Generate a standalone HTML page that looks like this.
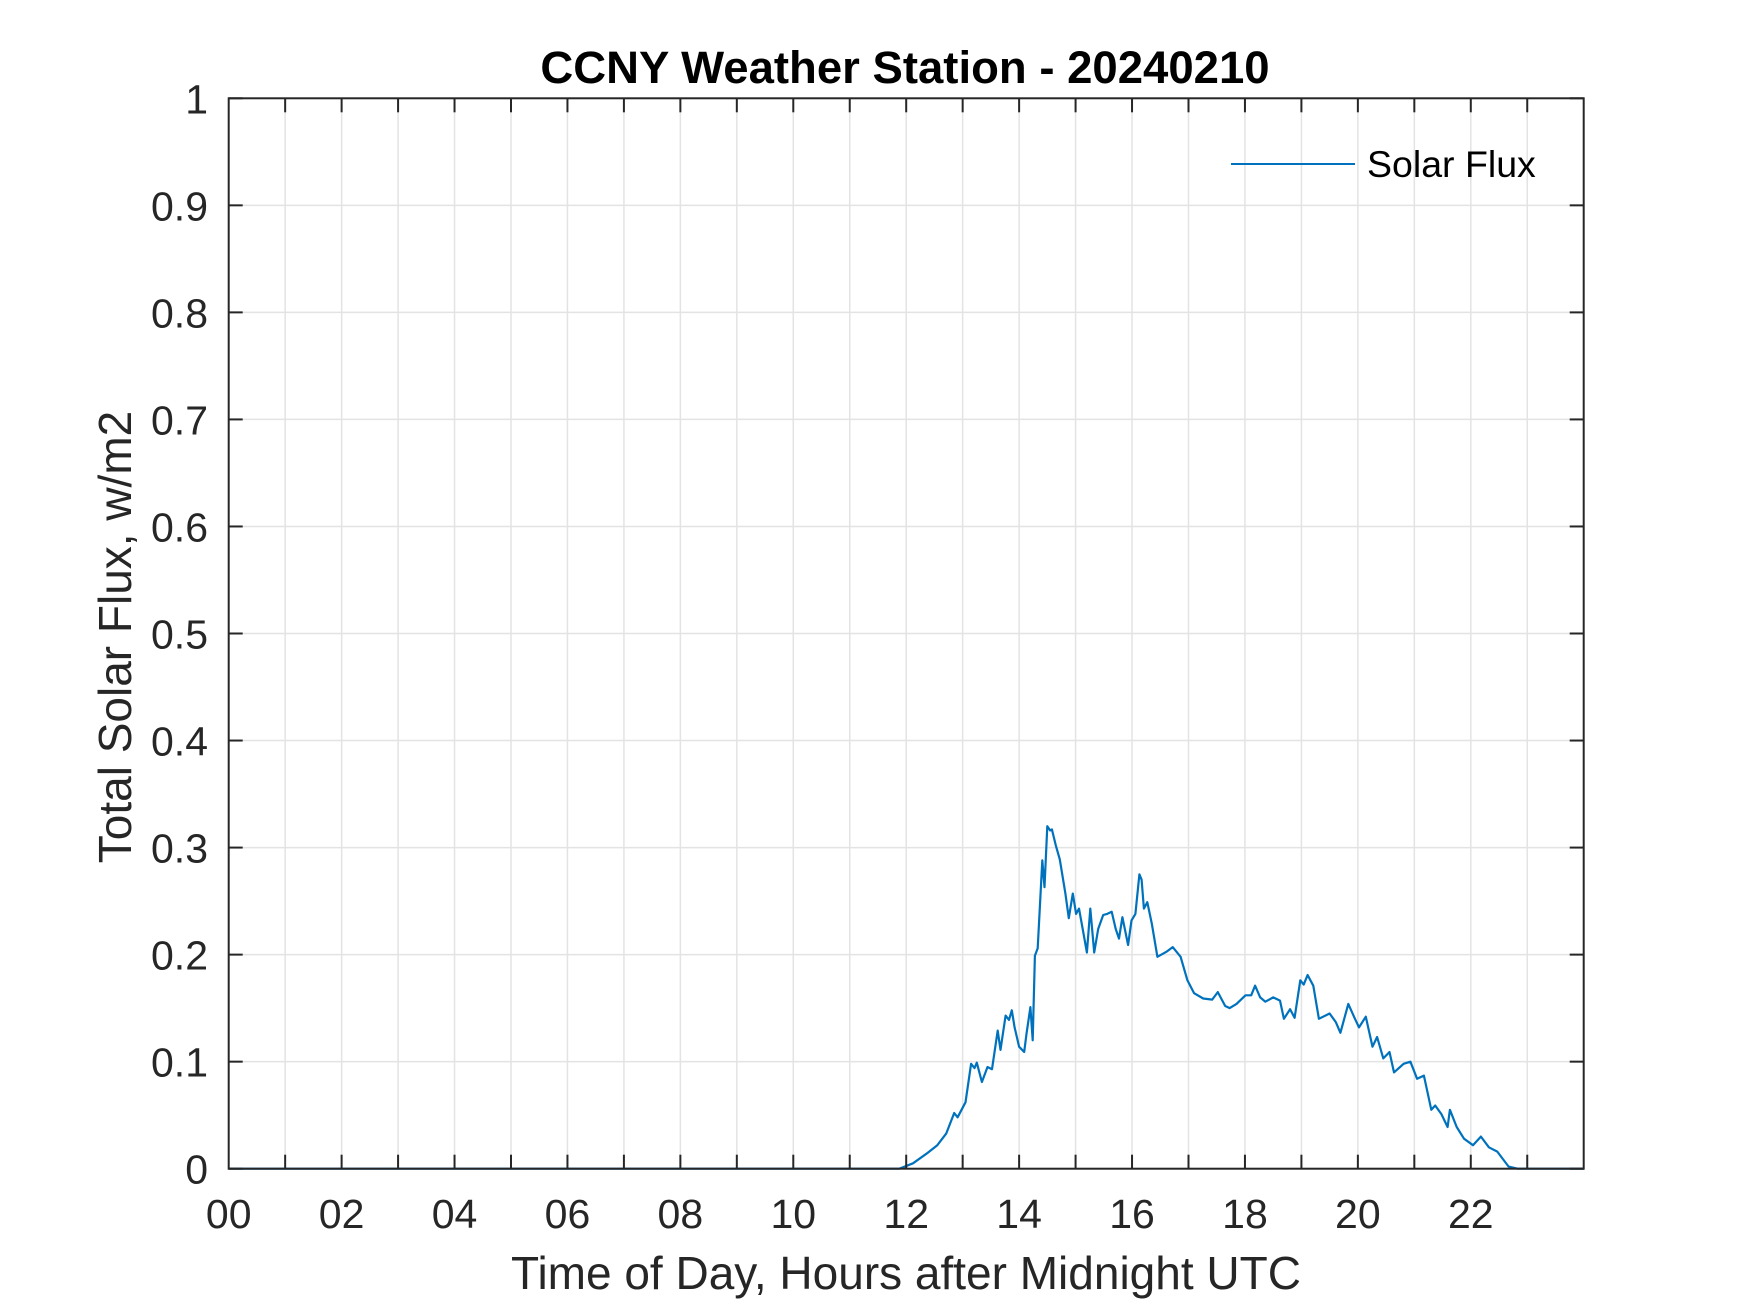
<!DOCTYPE html>
<html><head><meta charset="utf-8"><style>
html,body{margin:0;padding:0;background:#fff;}
svg{display:block;font-family:"Liberation Sans",Arial,sans-serif;}
</style></head><body>
<svg id="chart" width="1750" height="1313" viewBox="0 0 1750 1313" xmlns="http://www.w3.org/2000/svg">
<rect width="1750" height="1313" fill="#fff"/>
<g id="grid"></g>
<g id="series"></g>
<g id="axes"></g>
<text x="905" y="83" text-anchor="middle" font-size="45.5" font-weight="bold" fill="#000">CCNY Weather Station - 20240210</text>
<text x="906" y="1289" text-anchor="middle" font-size="46" fill="#262626">Time of Day, Hours after Midnight UTC</text>
<text transform="translate(131,637) rotate(-90)" text-anchor="middle" font-size="46" fill="#262626">Total Solar Flux, w/m2</text>
<g>
<line x1="1231" y1="164" x2="1355" y2="164" stroke="#0072BD" stroke-width="2"/>
<text x="1367" y="177" font-size="37.5" fill="#000">Solar Flux</text>
</g>
</svg>
<script>
const hours = [0,11.88,12.12,12.36,12.55,12.71,12.85,12.91,13.05,13.15,13.21,13.25,13.34,13.44,13.52,13.62,13.67,13.76,13.82,13.87,13.92,14.0,14.09,14.13,14.2,14.24,14.28,14.33,14.41,14.45,14.5,14.55,14.58,14.65,14.72,14.82,14.88,14.95,15.01,15.06,15.12,15.2,15.26,15.33,15.4,15.49,15.56,15.64,15.71,15.77,15.83,15.93,15.99,16.06,16.13,16.17,16.21,16.27,16.35,16.45,16.62,16.72,16.86,16.98,17.1,17.26,17.42,17.52,17.65,17.73,17.85,18.01,18.11,18.18,18.27,18.36,18.5,18.62,18.69,18.8,18.88,18.98,19.04,19.11,19.21,19.31,19.5,19.61,19.69,19.83,19.94,20.02,20.14,20.26,20.34,20.45,20.56,20.64,20.81,20.93,21.05,21.17,21.3,21.37,21.48,21.59,21.63,21.75,21.88,22.04,22.18,22.32,22.47,22.67,22.83,24];
const flux = [0,0,0.005,0.014,0.022,0.033,0.052,0.048,0.062,0.098,0.094,0.099,0.081,0.095,0.093,0.129,0.111,0.143,0.139,0.148,0.132,0.114,0.109,0.126,0.151,0.12,0.199,0.206,0.288,0.263,0.32,0.316,0.317,0.302,0.289,0.257,0.234,0.257,0.238,0.243,0.226,0.202,0.243,0.202,0.224,0.237,0.238,0.24,0.224,0.215,0.235,0.209,0.232,0.238,0.275,0.27,0.243,0.249,0.229,0.198,0.203,0.207,0.198,0.176,0.164,0.159,0.158,0.165,0.152,0.15,0.154,0.162,0.162,0.171,0.16,0.156,0.16,0.157,0.14,0.149,0.141,0.176,0.172,0.181,0.171,0.14,0.145,0.137,0.127,0.154,0.141,0.132,0.142,0.114,0.123,0.103,0.109,0.09,0.098,0.1,0.084,0.087,0.055,0.059,0.051,0.039,0.055,0.039,0.028,0.022,0.03,0.02,0.016,0.002,0,0];
const xTicks = [0,2,4,6,8,10,12,14,16,18,20,22];
const xTickLabels = ["00","02","04","06","08","10","12","14","16","18","20","22"];
const yTicks = [0,0.1,0.2,0.3,0.4,0.5,0.6,0.7,0.8,0.9,1];
const yTickLabels = ["0","0.1","0.2","0.3","0.4","0.5","0.6","0.7","0.8","0.9","1"];

const L=228.7,R=1583.7,T=98.3,B=1168.7;
const X=h=>L+(h/24)*(R-L);
const Y=v=>B-v*(B-T);
const NS="http://www.w3.org/2000/svg";
function mk(tag,attrs,parent){const e=document.createElementNS(NS,tag);for(const k in attrs)e.setAttribute(k,attrs[k]);parent.appendChild(e);return e;}
const grid=document.getElementById('grid'),axes=document.getElementById('axes'),series=document.getElementById('series');
for(let h=1;h<24;h++){
  const g=mk('line',{x1:X(h),x2:X(h),y1:T,y2:B,stroke:'#e3e3e3','stroke-width':1.5},grid);
  
  
  const t1=mk('line',{x1:X(h),x2:X(h),y1:B,y2:B-14,stroke:'#262626','stroke-width':2},axes);
  
  
  const t2=mk('line',{x1:X(h),x2:X(h),y1:T,y2:T+14,stroke:'#262626','stroke-width':2},axes);
  
  
}
xTicks.forEach((h,i)=>{
  const t=mk('text',{x:X(h),y:1228,'text-anchor':'middle','font-size':41,fill:'#262626'},axes);
  t.textContent=xTickLabels[i];
  
  
});
yTicks.forEach((v,i)=>{
  if(v>0&&v<1){
    const g=mk('line',{x1:L,x2:R,y1:Y(v),y2:Y(v),stroke:'#e3e3e3','stroke-width':1.5},grid);
    
    
  }
  const a=mk('line',{x1:L,x2:L+14,y1:Y(v),y2:Y(v),stroke:'#262626','stroke-width':2},axes);
  
  
  const b=mk('line',{x1:R,x2:R-14,y1:Y(v),y2:Y(v),stroke:'#262626','stroke-width':2},axes);
  
  
  const t=mk('text',{x:208,y:Y(v)+15,'text-anchor':'end','font-size':41,fill:'#262626'},axes);
  t.textContent=yTickLabels[i];
  
  
});
const box=mk('rect',{x:L,y:T,width:R-L,height:B-T,fill:'none',stroke:'#262626','stroke-width':2},axes);


const line=mk('polyline',{points:hours.map((h,i)=>X(h).toFixed(1)+','+Y(flux[i]).toFixed(1)).join(' '),fill:'none',stroke:'#0072BD','stroke-width':2.2,'stroke-linejoin':'round'},series);


</script>
</body></html>
